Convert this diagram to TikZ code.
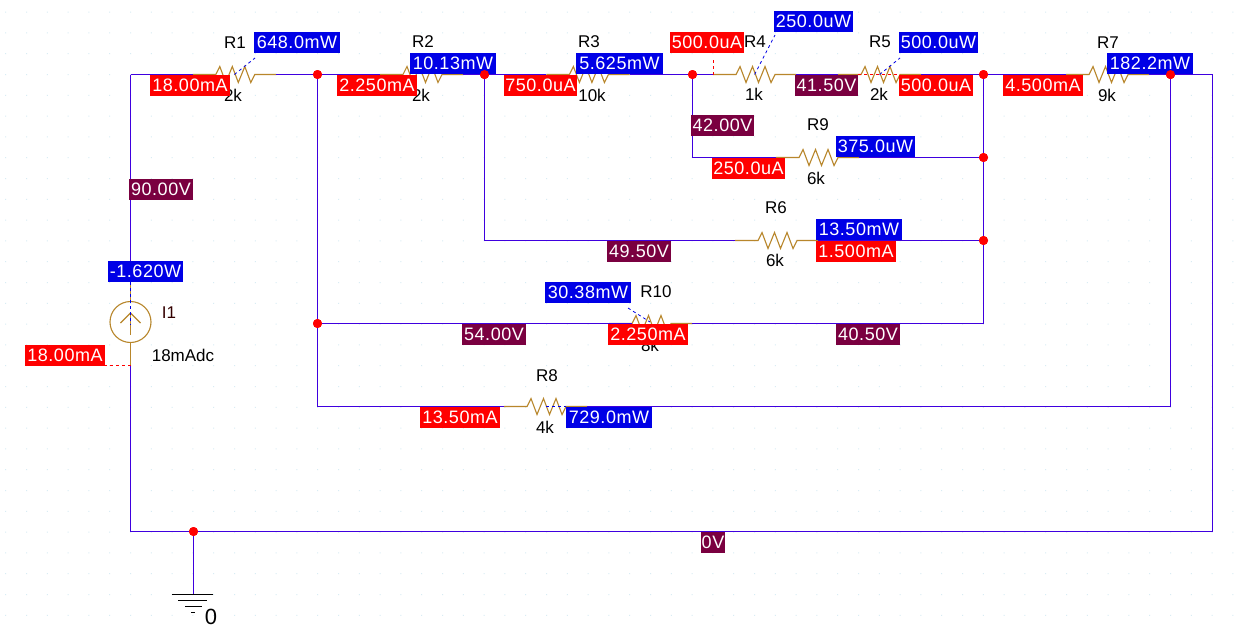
\documentclass[tikz,border=0pt]{standalone}
\usepackage{fontspec}
\setmainfont{Liberation Sans}
\newfontfamily\labfont[LetterSpace=3]{Liberation Sans}
\definecolor{wirec}{HTML}{3F00DF}
\definecolor{partc}{HTML}{B8862B}
\definecolor{redc}{HTML}{FF0000}
\definecolor{bluec}{HTML}{0000E6}
\definecolor{volc}{HTML}{7A0040}
\definecolor{dotc}{HTML}{D8ECF4}
\tikzset{
  wire/.style={draw=wirec,line width=1.2pt},
  part/.style={draw=partc,line width=1.1pt,line join=miter},
  junc/.style={circle,fill=redc,draw=none,minimum size=9pt,inner sep=0pt},
  lab/.style={inner sep=0pt,minimum height=21pt,text=white,font=\labfont\fontsize{18}{18}\selectfont},
  cur/.style={lab,fill=redc},
  pow/.style={lab,fill=bluec},
  vol/.style={lab,fill=volc},
  txt/.style={inner sep=0pt,text=black,font=\fontsize{17}{17}\selectfont},
  reddash/.style={draw=redc,line width=0.8pt,dash pattern=on 3pt off 3pt},
  bluedash/.style={draw=bluec,line width=0.8pt,dash pattern=on 3pt off 3pt},
  gbar/.style={draw=black,line width=1.1pt}
}
% name, left end x, y : 83.2 long lead with a 39 long zigzag
\newcommand{\resistor}[3]{%
  \coordinate (#1a) at (#2,#3);
  \coordinate (#1b) at (#2+83.2,#3);
  \coordinate (#1c) at (#2+41.6,#3);
  \coordinate (#1z) at (#2+23,#3);
  \draw[part] (#1a) -- (#1z) -- ++(4,-8) -- ++(6,16) -- ++(6.5,-16) -- ++(6,16) -- ++(6.5,-16) -- ++(6,16) -- ++(4,-8) -- (#1b);
}
\begin{document}
\begin{tikzpicture}[x=1pt,y=-1pt]
\useasboundingbox[fill=white] (0,0) rectangle (1242,627);
% grid
\fill[dotc] \foreach \i in {-6,...,53}{\foreach \j in {-3,...,26}{
  (130+20.8*\i,74+20.8*\j) rectangle ++(1,1)}};
% junctions
\coordinate (tl) at (130.5,74.5);
\coordinate (tr) at (1212.5,74.5);
\coordinate (bl) at (130.5,531.5);
\coordinate (br) at (1212.5,531.5);
\node[junc] (ja) at (317.5,74.5) {};
\node[junc] (jb) at (484.5,74.5) {};
\node[junc] (jc) at (692.5,74.5) {};
\node[junc] (jd) at (983.5,74.5) {};
\node[junc] (je) at (1170.5,74.5) {};
\node[junc] (jf) at (983.5,157.5) {};
\node[junc] (jg) at (983.5,240.5) {};
\node[junc] (jh) at (317.5,323.5) {};
\node[junc] (jg0) at (193.5,531.5) {};
\coordinate (c9) at (692.5,157.5);
\coordinate (c6) at (484.5,240.5);
\coordinate (c10) at (983.5,323.5);
\coordinate (c8) at (317.5,406.5);
\coordinate (c8r) at (1170.5,406.5);
\coordinate (gnd) at (193.5,594.5);
% parts
\resistor{R1}{192.8}{74.5}
\resistor{R2}{380}{74.5}
\resistor{R3}{546.4}{74.5}
\resistor{R4}{713}{74.5}
\resistor{R5}{838}{74.5}
\resistor{R7}{1066}{74.5}
\resistor{R9}{776}{157.5}
\resistor{R6}{735}{240.5}
\resistor{R10}{609}{323.5}
\resistor{R8}{504}{406.5}
% current source
\node[circle,draw=partc,line width=1.1pt,minimum size=41pt,inner sep=0pt] (I1) at (130.5,322) {};
\coordinate (Ia) at (130.5,282);
\coordinate (Ib) at (130.5,365.5);
\coordinate (Ip) at (130.5,313);
\coordinate (Iq) at (130.5,335);
\coordinate (Il) at (120.5,323);
\coordinate (Ir) at (140.5,323);
\draw[part] (Ia) -- (I1.north);
\draw[part] (I1.south) -- (Ib);
\draw[part] (Ip) -- (Iq);
\draw[part] (Il) -- (Ip) -- (Ir);
% wires
\draw[wire] (tl) -- (R1a);
\draw[wire] (R1b) -- (ja) -- (R2a);
\draw[wire] (R2b) -- (jb) -- (R3a);
\draw[wire] (R3b) -- (jc) -- (R4a);
\draw[wire] (R4b) -- (R5a);
\draw[wire] (R5b) -- (jd) -- (R7a);
\draw[wire] (R7b) -- (je) -- (tr) -- (br) -- (jg0) -- (bl) -- (Ib);
\draw[wire] (Ia) -- (tl);
\draw[wire] (ja) -- (jh) -- (c8) -- (R8a);
\draw[wire] (R8b) -- (c8r) -- (je);
\draw[wire] (jb) -- (c6) -- (R6a);
\draw[wire] (R6b) -- (jg);
\draw[wire] (jc) -- (c9) -- (R9a);
\draw[wire] (R9b) -- (jf);
\draw[wire] (jh) -- (R10z);
\draw[wire] (R10b) -- (c10);
\draw[wire] (jd) -- (jf) -- (jg) -- (c10);
\draw[wire] (jg0) -- (gnd);
% redraw junctions on top
\foreach \p in {ja,jb,jc,jd,je,jf,jg,jh,jg0}{\fill[redc] (\p) circle (4.5);}
% ground
\coordinate (g1l) at (172,594.5); \coordinate (g1r) at (213,594.5);
\coordinate (g2l) at (178,600.5); \coordinate (g2r) at (207,600.5);
\coordinate (g3l) at (185,606.5); \coordinate (g3r) at (202,606.5);
\coordinate (g4l) at (191,612.5); \coordinate (g4r) at (195,612.5);
\draw[gbar] (g1l) -- (g1r);
\draw[gbar] (g2l) -- (g2r);
\draw[gbar] (g3l) -- (g3r);
\draw[gbar] (g4l) -- (g4r);
% texts
\node[txt] (tR1) at (235,43) {R1};
\node[txt] (vR1) at (233,95) {2k};
\node[txt] (tR2) at (423,42) {R2};
\node[txt] (vR2) at (421,95) {2k};
\node[txt] (tR3) at (589,42) {R3};
\node[txt] (vR3) at (592,95) {10k};
\node[txt] (tR4) at (755,42) {R4};
\node[txt] (vR4) at (754,94) {1k};
\node[txt] (tR5) at (880,42) {R5};
\node[txt] (vR5) at (879,94) {2k};
\node[txt] (tR7) at (1108,43) {R7};
\node[txt] (vR7) at (1107,95) {9k};
\node[txt] (tR9) at (818,125) {R9};
\node[txt] (vR9) at (816,178) {6k};
\node[txt] (tR6) at (776,208) {R6};
\node[txt] (vR6) at (775,260) {6k};
\node[txt] (tR10) at (656,292) {R10};
\node[txt] (vR10) at (650,345) {8k};
\node[txt] (tR8) at (547,376) {R8};
\node[txt] (vR8) at (545,427) {4k};
\node[txt,text=black!80!red] (tI1) at (169,313) {I1};
\node[txt] (vI1) at (183,355) {18mAdc};
\node[txt,font=\fontsize{22}{22}\selectfont] (t0) at (211,617) {0};
% marker leaders
\coordinate (d1) at (255,58);
\coordinate (d4) at (775,35);
\coordinate (d4r) at (713,60);
\coordinate (d5) at (900,58);
\coordinate (d5l) at (858,74.5);
\coordinate (d5r) at (900,74.5);
\coordinate (d10) at (628,308);
\coordinate (d10b) at (650,322);
\coordinate (d8a) at (546,406.5);
\coordinate (d8b) at (566,406.5);
\coordinate (dIa) at (130.5,282);
\coordinate (dIb) at (130.5,325);
\coordinate (dI) at (104,365.5);
\draw[bluedash] (R1c) -- (d1);
\draw[bluedash] (R4c) -- (d4);
\draw[reddash] (R4a) -- (d4r);
\draw[bluedash] (R5c) -- (d5);
\draw[reddash] (d5l) -- (d5r);
\draw[bluedash] (d10) -- (d10b);
\draw[bluedash] (d8a) -- (d8b);
\draw[bluedash] (dIa) -- (dIb);
\draw[reddash] (dI) -- (Ib);
% current markers
\node[cur,minimum width=80pt] (i1) at (190,85) {18.00mA};
\node[cur,minimum width=80pt] (i2) at (377,85) {2.250mA};
\node[cur,minimum width=73.5pt] (i3) at (540.5,85) {750.0uA};
\node[cur,minimum width=74pt] (i4) at (707,42.5) {500.0uA};
\node[cur,minimum width=74pt] (i5) at (936,85.5) {500.0uA};
\node[cur,minimum width=73pt] (i9) at (748.5,168) {250.0uA};
\node[cur,minimum width=80pt] (i7) at (1043,85) {4.500mA};
\node[cur,minimum width=80pt] (i6) at (856,251) {1.500mA};
\node[cur,minimum width=80pt] (i10) at (648,334) {2.250mA};
\node[cur,minimum width=80pt] (i8) at (460,417.5) {13.50mA};
\node[cur,minimum width=80pt] (iI) at (65,355) {18.00mA};
% power markers
\node[pow,minimum width=86pt] (p1) at (297,42.5) {648.0mW};
\node[pow,minimum width=86pt] (p2) at (453,63.5) {10.13mW};
\node[pow,minimum width=87pt] (p3) at (619.5,63.5) {5.625mW};
\node[pow,minimum width=79pt] (p4) at (813.5,21.5) {250.0uW};
\node[pow,minimum width=79pt] (p5) at (938.5,42.5) {500.0uW};
\node[pow,minimum width=86pt] (p7) at (1150,63.5) {182.2mW};
\node[pow,minimum width=79pt] (p9) at (875.5,146.5) {375.0uW};
\node[pow,minimum width=86pt] (p6) at (859,229.5) {13.50mW};
\node[pow,minimum width=86pt] (p10) at (588,292.5) {30.38mW};
\node[pow,minimum width=86pt] (p8) at (609,417.5) {729.0mW};
\node[pow,minimum width=75pt] (pI) at (145.5,271.5) {-1.620W};
% voltage markers
\node[vol,minimum width=64pt] (v90) at (161,189.5) {90.00V};
\node[vol,minimum width=63pt] (v42) at (722.5,125.5) {42.00V};
\node[vol,minimum width=63pt] (v41) at (826.5,85) {41.50V};
\node[vol,minimum width=64pt] (v49) at (639,251) {49.50V};
\node[vol,minimum width=64pt] (v54) at (494,334) {54.00V};
\node[vol,minimum width=64pt] (v40) at (868,334) {40.50V};
\node[vol,minimum width=24pt] (v0) at (713,542) {0V};
% junctions drawn over markers where the reference shows them
\fill[redc] (jb) circle (4.5);
\fill[redc] (je) circle (4.5);
\end{tikzpicture}
\end{document}
